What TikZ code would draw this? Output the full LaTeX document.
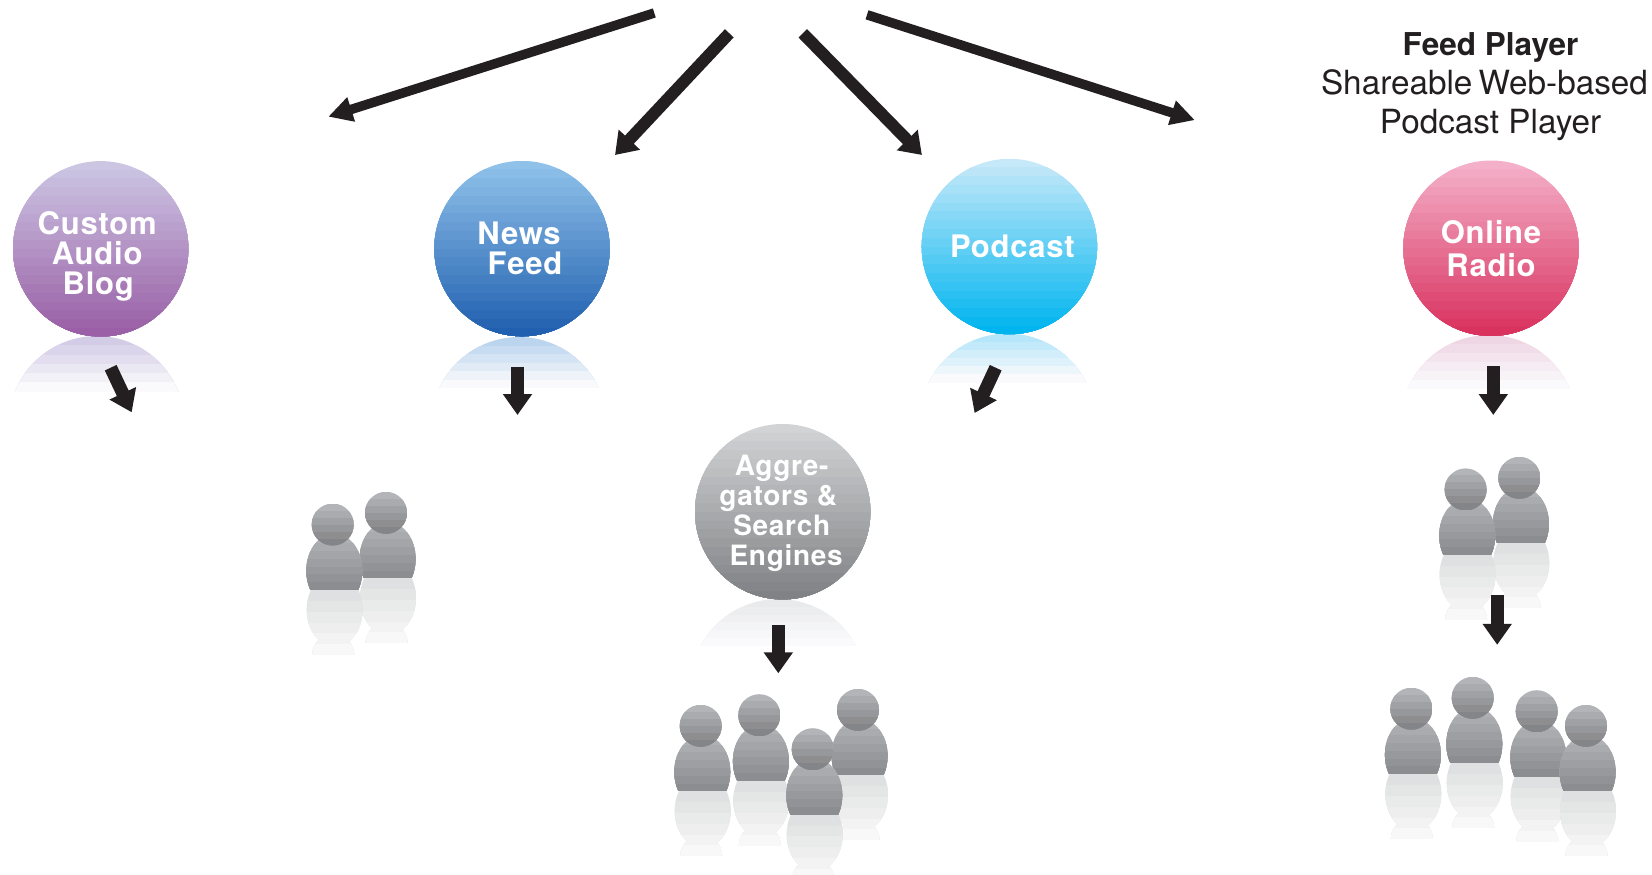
\documentclass[tikz,border=0pt]{standalone}
\usepackage{fontspec}
\setmainfont{TeX Gyre Heros}
\newfontfamily\ballfont[LetterSpace=2.5]{TeX Gyre Heros}
\usepackage{tikz}
\usetikzlibrary{arrows.meta}
\definecolor{ink}{HTML}{231F20}
\definecolor{blogtop}{HTML}{CCC6E3}
\definecolor{blogbot}{HTML}{9A5FA6}
\definecolor{blogrefl}{HTML}{D2CCE6}
\definecolor{newstop}{HTML}{8FC1E9}
\definecolor{newsbot}{HTML}{2160B0}
\definecolor{newsrefl}{HTML}{BCD5EE}
\definecolor{podtop}{HTML}{C6E9F9}
\definecolor{podbot}{HTML}{00B5EF}
\definecolor{podrefl}{HTML}{B5E6F9}
\definecolor{radiotop}{HTML}{F4B0C9}
\definecolor{radiobot}{HTML}{D9325F}
\definecolor{radiorefl}{HTML}{EFD6E5}
\definecolor{aggtop}{HTML}{D2D3D5}
\definecolor{aggbot}{HTML}{808285}
\definecolor{aggrefl}{HTML}{E9EAEB}
\definecolor{fadeend}{HTML}{FAFAFC}
\definecolor{bodytop}{HTML}{B0B1B4}
\definecolor{bodybot}{HTML}{8C8D90}
\definecolor{headtop}{HTML}{B3B4B7}
\definecolor{headbot}{HTML}{848588}
\definecolor{mirrortop}{HTML}{DFE0E1}
\definecolor{mirrorbot}{HTML}{F8F8F8}
\tikzset{
  x=1pt, y=-1pt,
  ball/.style={
    circle,
    minimum size=175.4pt,
    inner sep=0pt,
    align=center,
    text=white,
    font=\ballfont\bfseries\fontsize{31}{30}\selectfont
  },
  caption/.style={
    align=center,
    text=ink,
    font=\fontsize{33.3}{39}\selectfont
  },
  fan/.style={
    draw=ink,
    line width=9.5pt,
    -{Triangle[length=24pt, width=24pt]}
  },
  fanbold/.style={
    draw=ink,
    line width=12pt,
    -{Triangle[length=21pt, width=28pt]}
  },
  drop/.style={
    draw=ink,
    line width=13pt,
    -{Triangle[length=21pt, width=28pt]}
  }
}
% stripes: left, top, right, bottom, top colour, bottom colour, count
\newcommand{\bands}[7]{%
  \foreach \k in {1,...,#7} {
    \pgfmathsetmacro{\mixpct}{100-100*(\k-1)/(#7-1)}
    \pgfmathsetmacro{\ytop}{#2+(#4-(#2))*(\k-1)/#7}
    \fill[#5!\mixpct!#6] (#1,\ytop) rectangle (#3,#4);
  }
}
% ball: node options, name, x, y, top colour, bottom colour, text
\newcommand{\ballnode}[7][]{%
  \begin{scope}
    \clip (#3,#4) circle[radius=87.7];
    \bands{#3-90}{#4-88}{#3+90}{#4+88}{#5}{#6}{20}
  \end{scope}
  \node[ball, #1] (#2) at (#3,#4) {#7};
}
% mirror image under a ball: x, top, depth, colour
\newcommand{\ballrefl}[4]{%
  \begin{scope}
    \clip (#1-90,#2) rectangle (#1+90,#2+#3);
    \clip (#1,#2+87.7) circle[radius=87.7];
    \bands{#1-90}{#2}{#1+90}{#2+#3}{#4}{fadeend}{6}
  \end{scope}
}
% person: head x, head y
\newcommand{\person}[2]{%
  \begin{scope}[shift={(#1,#2)}]
    \begin{scope}
      \clip (-35,65.5) rectangle (35,130.5);
      \clip (2,85) ellipse[x radius=28, y radius=37] (0.5,130.5) circle[radius=21];
      \bands{-35}{65.5}{35}{130.5}{mirrortop}{mirrorbot}{6}
    \end{scope}
    \begin{scope}
      \clip (-35,0) rectangle (35,65.5);
      \clip (1.6,46) ellipse[x radius=28, y radius=37];
      \bands{-35}{11}{35}{65.5}{bodytop}{bodybot}{7}
    \end{scope}
    \begin{scope}
      \clip (0,0) circle[radius=21];
      \bands{-22}{-21}{22}{21}{headtop}{headbot}{6}
    \end{scope}
  \end{scope}
}
\begin{document}
\begin{tikzpicture}
  \useasboundingbox (0,0) rectangle (1652,875);

  % Reflections
  \ballrefl{96.7}{336}{55.5}{blogrefl}
  \ballrefl{519}{337}{51}{newsrefl}
  \ballrefl{1007.4}{333.5}{49}{podrefl}
  \ballrefl{1488.7}{335}{54}{radiorefl}
  \ballrefl{778.3}{599}{46.5}{aggrefl}

  % Balls
  \ballnode[yshift=-7.5pt]{blog}{100.7}{248.8}{blogtop}{blogbot}{\hspace*{-7pt}Custom\\\hspace*{-7pt}Audio\\\hspace*{-5pt}Blog}
  \ballnode{news}{522}{248.6}{newstop}{newsbot}{\hspace*{-6pt}News\\\hspace*{6pt}Feed}
  \ballnode{podcast}{1009.4}{246.5}{podtop}{podbot}{\hspace*{6pt}Podcast}
  \ballnode{radio}{1491}{248.2}{radiotop}{radiobot}{Online\\[3pt]Radio}
  \ballnode[yshift=-2pt, font=\ballfont\bfseries\fontsize{28}{30}\selectfont]{aggregators}{782.7}{511.7}{aggtop}{aggbot}{\hspace*{-2pt}Aggre-\\\hspace*{-9pt}gators \&\\\hspace*{-2pt}Search\\\hspace*{7pt}Engines}

  % Caption
  \node[caption] (player) at (1487,87) {{\fontsize{31.5}{39}\selectfont\bfseries\hspace*{7pt}Feed Player}\\\hspace*{-5pt}Shareable\hspace{-3pt} Web-based\\\hspace*{7pt}Podcast Player};

  % People
  \person{386}{512.8}
  \person{332.7}{524.5}
  \person{700.7}{725.8}
  \person{759.3}{715.2}
  \person{858}{709.8}
  \person{812.7}{749.2}
  \person{1519.3}{477.8}
  \person{1465.6}{489.4}
  \person{1472.7}{697.8}
  \person{1411.3}{708.7}
  \person{1536.7}{711.2}
  \person{1586}{725.8}

  % Fan of arrows at the top
  \coordinate (fan1s) at (654.3,13);
  \coordinate (fan1e) at (328.3,116.7);
  \coordinate (fan2s) at (729.3,33.3);
  \coordinate (fan2e) at (615,155);
  \coordinate (fan3s) at (802.8,33.3);
  \coordinate (fan3e) at (921.9,155);
  \coordinate (fan4s) at (867,14.8);
  \coordinate (fan4e) at (1194.8,120.1);
  \draw[fan] (fan1s) -- (fan1e);
  \draw[fanbold] (fan2s) -- (fan2e);
  \draw[fanbold] (fan3s) -- (fan3e);
  \draw[fan] (fan4s) -- (fan4e);

  % Arrows under the balls
  \coordinate (blogs) at (110.7,367.7);
  \coordinate (bloge) at (131.7,412.3);
  \coordinate (newss) at (517.5,366.6);
  \coordinate (newse) at (517.5,415);
  \coordinate (pods) at (995.7,367.7);
  \coordinate (pode) at (974.6,413);
  \coordinate (radios) at (1493.3,366);
  \coordinate (radioe) at (1493.3,415);
  \coordinate (aggs) at (778.3,625);
  \coordinate (agge) at (778.3,673.3);
  \coordinate (crowds) at (1497.2,595.3);
  \coordinate (crowde) at (1497.2,644.8);
  \draw[drop] (blogs) -- (bloge);
  \draw[drop] (newss) -- (newse);
  \draw[drop] (pods) -- (pode);
  \draw[drop] (radios) -- (radioe);
  \draw[drop] (aggs) -- (agge);
  \draw[drop] (crowds) -- (crowde);
\end{tikzpicture}
\end{document}
